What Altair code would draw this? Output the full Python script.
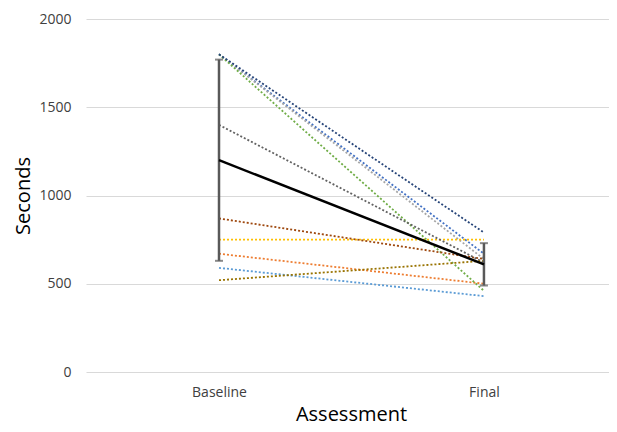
import altair as alt
import pandas as pd

# Assessment categories
assessments = ["Baseline", "Final"]

# Individual participants (Excel default series colours)
participants = ["P1", "P2", "P3", "P4", "P5", "P6", "P7", "P8", "P9", "P10"]
baseline = [1800, 670, 1800, 750, 590, 1800, 1800, 870, 1400, 520]
final = [670, 500, 640, 750, 430, 460, 790, 640, 620, 630]
colors = ["#4472C4", "#ED7D31", "#A5A5A5", "#FFC000", "#5B9BD5",
          "#70AD47", "#264478", "#9E480E", "#636363", "#997300"]

# Group mean and error (SD)
mean_vals = [1200, 610]
err_vals = [570, 120]

rows = []
for p, b, f in zip(participants, baseline, final):
    rows.append({"participant": p, "assessment": assessments[0], "idx": 0, "seconds": b})
    rows.append({"participant": p, "assessment": assessments[1], "idx": 1, "seconds": f})
ind = pd.DataFrame(rows)

mean_df = pd.DataFrame({
    "assessment": assessments,
    "idx": list(range(len(assessments))),
    "seconds": mean_vals,
    "low": [m - e for m, e in zip(mean_vals, err_vals)],
    "high": [m + e for m, e in zip(mean_vals, err_vals)],
})

font = "Open Sans"

label_expr = "datum.value == 0 ? '%s' : '%s'" % (assessments[0], assessments[1])
x_axis = alt.Axis(title="Assessment", values=[0, 1], labelExpr=label_expr,
                  labelAngle=0, domain=False, ticks=False,
                  grid=False, labelPadding=13, labelFontSize=14,
                  labelColor="#404040", labelFont=font,
                  titleFont=font, titleFontSize=20, titleFontWeight="normal",
                  titleColor="#000000", titlePadding=5, titleX=265)
x_scale = alt.Scale(domain=[-0.502, 1.472], nice=False, zero=False)
y_scale = alt.Scale(domain=[0, 2000], nice=False)
y_axis = alt.Axis(title="Seconds", values=[0, 500, 1000, 1500, 2000], format="d",
                  domain=False, ticks=False, grid=True, gridColor="#d9d9d9", gridWidth=1,
                  labelPadding=15, labelFontSize=14, labelColor="#404040", labelFont=font,
                  titleFont=font, titleFontSize=20, titleFontWeight="normal",
                  titleColor="#000000", titlePadding=5)

x_enc = alt.X("idx:Q", scale=x_scale, axis=x_axis)

lines = alt.Chart(ind).mark_line(strokeDash=[2, 2], strokeWidth=1.8).encode(
    x=x_enc,
    y=alt.Y("seconds:Q", scale=y_scale, axis=y_axis),
    color=alt.Color("participant:N", scale=alt.Scale(domain=participants, range=colors),
                    legend=None),
    detail="participant:N",
)

err_rule = alt.Chart(mean_df).mark_rule(color="#595959", strokeWidth=2.5).encode(
    x=x_enc,
    y=alt.Y("low:Q", scale=y_scale, axis=y_axis),
    y2="high:Q",
)
cap_low = alt.Chart(mean_df).mark_tick(color="#595959", size=8, thickness=2,
                                       orient="horizontal").encode(
    x=x_enc,
    y=alt.Y("low:Q", scale=y_scale, axis=y_axis),
)
cap_high = alt.Chart(mean_df).mark_tick(color="#595959", size=8, thickness=2,
                                        orient="horizontal").encode(
    x=x_enc,
    y=alt.Y("high:Q", scale=y_scale, axis=y_axis),
)
mean_line = alt.Chart(mean_df).mark_line(color="#000000", strokeWidth=2.5).encode(
    x=x_enc,
    y=alt.Y("seconds:Q", scale=y_scale, axis=y_axis),
)

chart = alt.layer(lines, err_rule, cap_low, cap_high, mean_line).properties(
    width=523, height=353,
    autosize=alt.AutoSizeParams(type="none"),
    padding={"left": 78, "top": 11, "right": 0, "bottom": 52},
    background="#ffffff",
).configure_view(stroke=None)

chart.save("out.html", embed_options={"renderer": "svg", "actions": False})
